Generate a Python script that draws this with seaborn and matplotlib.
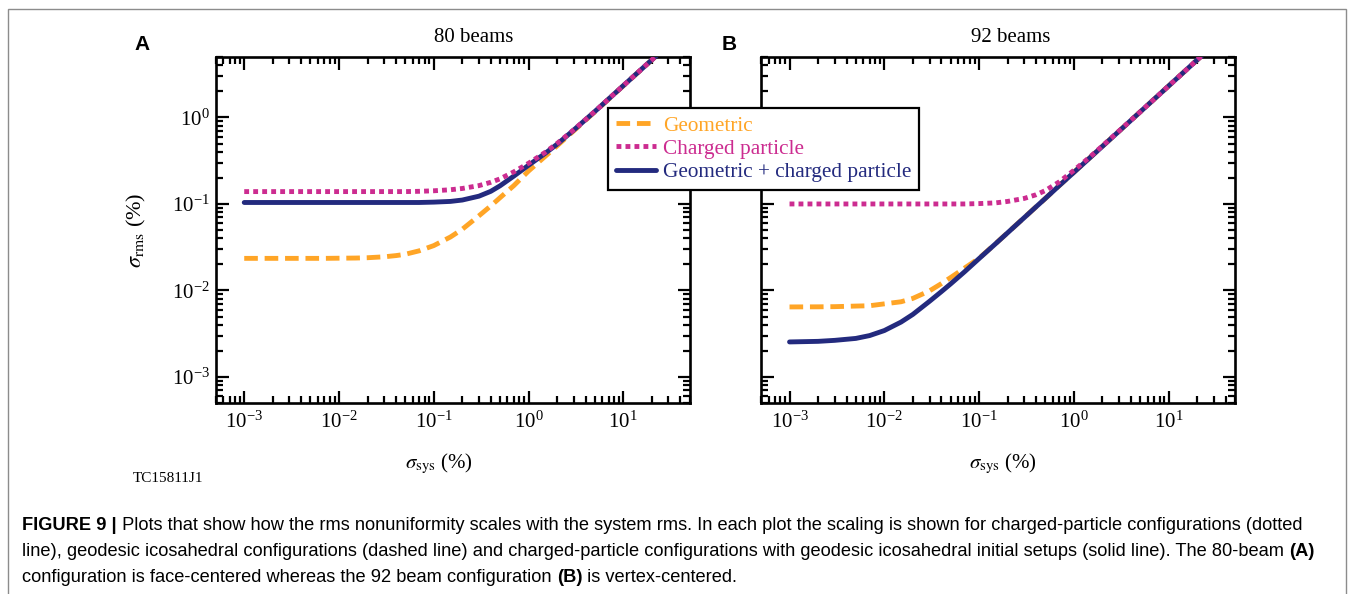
import matplotlib
matplotlib.use("Agg")
import matplotlib.pyplot as plt
import seaborn as sns
import pandas as pd
import numpy as np
from matplotlib.lines import Line2D
from matplotlib.patches import Rectangle
from matplotlib.ticker import LogLocator, NullFormatter

# ---------------- data ----------------
sigma_sys = [0.001, 0.002, 0.003, 0.005, 0.007, 0.01, 0.015, 0.02, 0.03, 0.04,
             0.05, 0.07, 0.1, 0.15, 0.2, 0.3, 0.4, 0.5, 0.7, 1.0, 1.5, 2.0,
             3.0, 5.0, 10.0, 20.0, 25.0]

geo_80 = [0.0235, 0.0235, 0.0235, 0.0235, 0.0235, 0.0236, 0.0237, 0.0239, 0.0245, 0.0253,
          0.0262, 0.0287, 0.033, 0.0415, 0.051, 0.073, 0.095, 0.118, 0.163, 0.24, 0.355, 0.47,
          0.70, 1.16, 2.32, 4.62, 5.8]
chg_80 = [0.139, 0.139, 0.139, 0.139, 0.139, 0.139, 0.139, 0.139, 0.139, 0.139,
          0.139, 0.140, 0.142, 0.146, 0.151, 0.163, 0.178, 0.195, 0.235, 0.295, 0.395, 0.50,
          0.72, 1.17, 2.33, 4.63, 5.8]
comb_80 = [0.104, 0.104, 0.104, 0.104, 0.104, 0.104, 0.104, 0.104, 0.104, 0.104,
           0.104, 0.104, 0.105, 0.107, 0.111, 0.123, 0.140, 0.162, 0.21, 0.28, 0.385, 0.49,
           0.715, 1.17, 2.33, 4.63, 5.8]

geo_92 = [0.00645, 0.00647, 0.0065, 0.0066, 0.00666, 0.0070, 0.0074, 0.0081, 0.0099, 0.0120,
          0.0141, 0.0181, 0.0236, 0.035, 0.0466, 0.0698, 0.093, 0.116, 0.163, 0.233, 0.349, 0.465,
          0.697, 1.16, 2.32, 4.64, 5.8]
chg_92 = [0.100, 0.100, 0.100, 0.100, 0.100, 0.100, 0.100, 0.100, 0.100, 0.100,
          0.100, 0.100, 0.101, 0.103, 0.107, 0.116, 0.128, 0.143, 0.18, 0.245, 0.355, 0.47,
          0.70, 1.16, 2.32, 4.64, 5.8]
comb_92 = [0.00254, 0.00258, 0.00265, 0.00279, 0.00301, 0.00344, 0.00431, 0.00529, 0.0075, 0.0097,
           0.0119, 0.0164, 0.0234, 0.0349, 0.0465, 0.0697, 0.093, 0.116, 0.163, 0.232, 0.348, 0.464,
           0.696, 1.16, 2.32, 4.64, 5.8]

panel_letters = ["A", "B"]
panel_titles = ["80 beams", "92 beams"]
series_labels = ["Geometric", "Charged particle", "Geometric + charged particle"]
x_label = r"$\sigma_{\rm sys}$ (%)"
y_label = r"$\sigma_{\rm rms}$ (%)"
tag_text = "TC15811J1"

caption_lines = [
    [("FIGURE 9 |", True),
     (" Plots that show how the rms nonuniformity scales with the system rms. In each plot the scaling is shown for charged-particle configurations (dotted", False)],
    [("line), geodesic icosahedral configurations (dashed line) and charged-particle configurations with geodesic icosahedral initial setups (solid line). The 80-beam ", False),
     ("(A)", True)],
    [("configuration is face-centered whereas the 92 beam configuration ", False),
     ("(B)", True),
     (" is vertex-centered.", False)],
]

# ---------------- style ----------------
sns.set_theme(style="ticks", rc={"axes.edgecolor": "black", "xtick.color": "black",
                                 "ytick.color": "black", "text.color": "black",
                                 "axes.labelcolor": "black"})
plt.rcParams["font.family"] = ["Liberation Serif", "DejaVu Serif"]
plt.rcParams["mathtext.fontset"] = "stix"

C_GEO = "#FFA526"
C_CHG = "#CC2C90"
C_COMB = "#232A7E"
LW = 3.5
DASH = (0, (2.8, 1.4))
DOT = (0, (1.0, 0.85))

W, H = 1354, 594
fig = plt.figure(figsize=(W / 100, H / 100), dpi=100)
fig.patch.set_facecolor("white")


def fx(px):
    return px / W


def fy(py):
    return 1 - py / H


ax_l, ax_r_A = 215.7, 689.5
ax_l_B, ax_r_B = 761.0, 1235.0
ax_top, ax_bot = 57.0, 403.0
axA = fig.add_axes([fx(ax_l), fy(ax_bot), (ax_r_A - ax_l) / W, (ax_bot - ax_top) / H])
axB = fig.add_axes([fx(ax_l_B), fy(ax_bot), (ax_r_B - ax_l_B) / W, (ax_bot - ax_top) / H])

panels = [
    (axA, geo_80, chg_80, comb_80),
    (axB, geo_92, chg_92, comb_92),
]

for ax, geo, chg, comb in panels:
    df = pd.DataFrame({"x": sigma_sys, "geo": geo, "chg": chg, "comb": comb})
    sns.lineplot(data=df, x="x", y="geo", ax=ax, color=C_GEO, linewidth=LW,
                 linestyle=DASH, zorder=2)
    sns.lineplot(data=df, x="x", y="comb", ax=ax, color=C_COMB, linewidth=LW,
                 linestyle="-", zorder=3)
    sns.lineplot(data=df, x="x", y="chg", ax=ax, color=C_CHG, linewidth=LW,
                 linestyle=DOT, zorder=4)
    ax.set_xscale("log")
    ax.set_yscale("log")
    ax.set_xlim(5e-4, 50)
    ax.set_ylim(5e-4, 5)
    ax.xaxis.set_major_locator(LogLocator(base=10, numticks=100))
    ax.yaxis.set_major_locator(LogLocator(base=10, numticks=100))
    ax.xaxis.set_minor_locator(LogLocator(base=10, subs=np.arange(2, 10), numticks=100))
    ax.yaxis.set_minor_locator(LogLocator(base=10, subs=np.arange(2, 10), numticks=100))
    ax.xaxis.set_minor_formatter(NullFormatter())
    ax.yaxis.set_minor_formatter(NullFormatter())
    ax.tick_params(which="both", direction="in", top=True, right=True,
                   width=1.6, labelsize=15)
    ax.tick_params(which="major", length=9, pad=6)
    ax.tick_params(which="minor", length=5)
    for sp in ax.spines.values():
        sp.set_linewidth(1.9)
        sp.set_color("black")
    ax.set_ylabel("")
    ax.set_xlabel(x_label, fontsize=15)
    ax.set_facecolor("white")

axA.set_ylabel(y_label, fontsize=16)
axA.yaxis.set_label_coords(-0.143, 0.5)
axA.xaxis.set_label_coords(0.47, -0.142)
axB.xaxis.set_label_coords(0.51, -0.142)
axB.tick_params(labelleft=False)
axA.tick_params(axis="y", pad=4)

# panel titles and letters
fig.text(fx(474), fy(38), panel_titles[0], fontsize=15, ha="center", va="center")
fig.text(fx(1011), fy(38), panel_titles[1], fontsize=15, ha="center", va="center")
fig.text(fx(142), fy(45), panel_letters[0], fontsize=15, ha="center", va="center",
         family=["Liberation Sans", "DejaVu Sans"], weight="bold")
fig.text(fx(729), fy(45), panel_letters[1], fontsize=15, ha="center", va="center",
         family=["Liberation Sans", "DejaVu Sans"], weight="bold")
fig.text(fx(133), fy(478), tag_text, fontsize=11, ha="left", va="center")

# legend spanning both panels
handles = [
    Line2D([], [], color=C_GEO, lw=LW, linestyle=DASH),
    Line2D([], [], color=C_CHG, lw=LW, linestyle=DOT),
    Line2D([], [], color=C_COMB, lw=LW, linestyle="-"),
]
leg = fig.legend(handles, series_labels, loc="upper left",
                 bbox_to_anchor=(fx(608), fy(108)), frameon=True, fancybox=False,
                 edgecolor="black", framealpha=1, borderaxespad=0, borderpad=0.36,
                 handlelength=1.9, handletextpad=0.35, labelspacing=0.16, fontsize=15.3)
leg.get_frame().set_linewidth(1.6)
for t, c in zip(leg.get_texts(), [C_GEO, C_CHG, C_COMB]):
    t.set_color(c)

# outer frame
fig.patches.append(Rectangle((fx(8), fy(640)), fx(1346) - fx(8), fy(9) - fy(640),
                             transform=fig.transFigure, fill=False,
                             edgecolor="#8c8c8c", linewidth=1.0))

# caption with mixed weights
fig.canvas.draw()
rend = fig.canvas.get_renderer()
cap_family = ["Liberation Sans", "DejaVu Sans"]


def run_width(txt, size, bold):
    t1 = fig.text(0, 0, "|" + txt + "|", fontsize=size, family=cap_family,
                  weight="bold" if bold else "normal")
    t2 = fig.text(0, 0, "||", fontsize=size, family=cap_family,
                  weight="bold" if bold else "normal")
    w = t1.get_window_extent(renderer=rend).width - t2.get_window_extent(renderer=rend).width
    t1.remove()
    t2.remove()
    return w


base_size = 12.0
w1 = sum(run_width(t, base_size, b) for t, b in caption_lines[0])
cap_size = base_size * (1283.0 / w1)
cap_y = [526, 552, 578]
for yy, runs in zip(cap_y, caption_lines):
    x = 22.0
    for txt, bold in runs:
        fig.text(fx(x), fy(yy), txt, fontsize=cap_size, family=cap_family,
                 weight="bold" if bold else "normal", ha="left", va="center")
        x += run_width(txt, cap_size, bold)

fig.savefig("out.png", dpi=100, facecolor="white")
